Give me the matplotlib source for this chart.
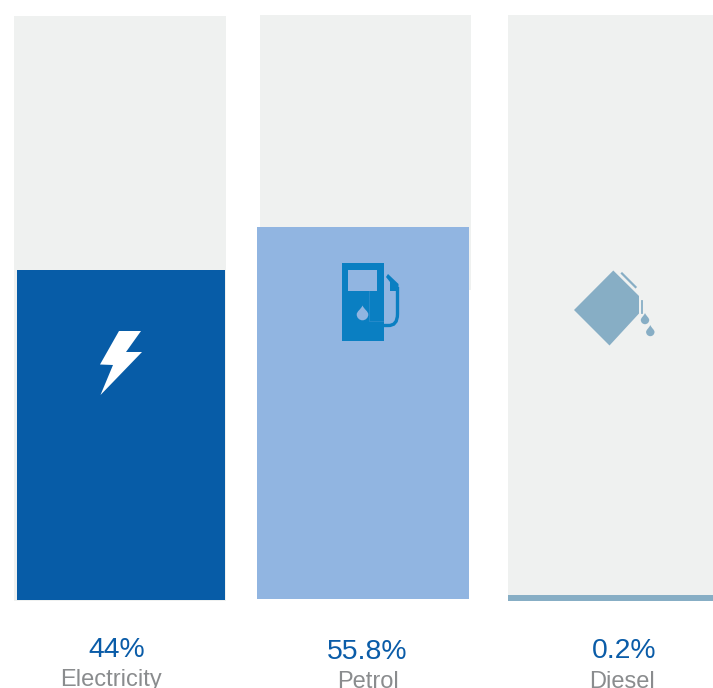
import matplotlib
matplotlib.use('Agg')
import matplotlib.pyplot as plt
from matplotlib.patches import Polygon, PathPatch, Rectangle
from matplotlib.path import Path

plt.rcParams['font.family'] = ['Liberation Sans', 'DejaVu Sans']

# Data
categories = ['Electricity', 'Petrol', 'Diesel']
share_labels = ['44%', '55.8%', '0.2%']
fill_heights = [330, 372, 6]  # drawn height of each bar [px]
track_heights = [585, 275, 580]  # drawn height of the grey tracks [px]

# Layout, all in pixels of the 713x688 picture
fill_left = [17, 257, 508]
fill_width = [208, 212, 205]
fill_base = [600, 599, 601]
track_left = [14, 260, 508]
track_width = [212, 211, 205]
track_base = [601, 290, 595]
share_pos = [(116.5, 657), (367.5, 659), (624, 658)]
name_pos = [(110.5, 686), (368, 687.5), (622, 688.5)]

colors = ['#075ca7', '#91b5e1', '#87aec5']
track_color = '#eff1f0'
pump_color = '#0a7fc2'
blue_text = '#0a5ca8'
grey_text = '#8a8c8e'


def drop(ax, cx, cy, r, top, color):
    # Water drop: round bottom centred on cx, cy with a point at top
    k = 0.55 * r
    mid = top + 0.45 * (cy - top)
    verts = [(cx, top),
             (cx + 0.3 * r, mid), (cx + r, cy - k), (cx + r, cy),
             (cx + r, cy + k), (cx + k, cy + r), (cx, cy + r),
             (cx - k, cy + r), (cx - r, cy + k), (cx - r, cy),
             (cx - r, cy - k), (cx - 0.3 * r, mid), (cx, top)]
    codes = [Path.MOVETO] + [Path.CURVE4] * 12
    ax.add_patch(PathPatch(Path(verts, codes), fc=color, ec='none', zorder=4))


fig = plt.figure(figsize=(7.13, 6.88), dpi=100)
ax = fig.add_axes([0, 0, 1, 1])
ax.set_xlim(0, 713)
ax.set_ylim(688, 0)
ax.axis('off')

# Tracks then fills (pixel y runs downward, so heights are negative)
for i in range(len(categories)):
    ax.bar(track_left[i], -track_heights[i], width=track_width[i], bottom=track_base[i],
           align='edge', color=track_color, linewidth=0, zorder=1)
for i in range(len(categories)):
    ax.bar(fill_left[i], -fill_heights[i], width=fill_width[i], bottom=fill_base[i],
           align='edge', color=colors[i], linewidth=0, zorder=2)

# Bolt icon
ax.add_patch(Polygon([(119, 331), (141, 331), (126, 352), (142, 352), (100.5, 395),
                      (113, 365), (100, 364.5)], fc='white', ec='none', zorder=3))

# Pump icon
ax.add_patch(Rectangle((341.5, 262.5), 42, 78, fc=pump_color, ec='none', zorder=3))
ax.add_patch(Rectangle((348.3, 270), 28.4, 20.7, fc=colors[1], ec='none', zorder=4))
ax.plot([369, 369, 383], [291, 320.5, 320.5], color='#2a8bcb', lw=0.6, zorder=4)
drop(ax, 362.5, 314.5, 5.8, 305.5, colors[1])
hose = Path([(383, 325.5), (388, 325.5), (397.5, 326), (397.5, 314), (397.5, 287)],
            [Path.MOVETO, Path.LINETO, Path.CURVE3, Path.CURVE3, Path.LINETO])
ax.add_patch(PathPatch(hose, fc='none', ec=pump_color, lw=2.4, zorder=3))
ax.add_patch(Polygon([(388, 274), (398.5, 284), (398.5, 291), (390, 291), (390, 282), (386, 277)],
                     fc=pump_color, ec='none', zorder=3))

# Oil can icon
ax.add_patch(Polygon([(613.3, 270.5), (639, 296), (639, 313.5), (609.5, 345.5), (574, 310)],
                     fc=colors[2], ec='none', zorder=3))
ax.plot([622, 635.5], [273.5, 287], color=colors[2], lw=1.6, zorder=3)
ax.plot([642.3, 642.3], [300.5, 312.5], color=colors[2], lw=1.3, zorder=3)
drop(ax, 645, 320, 4.2, 313, colors[2])
drop(ax, 650.3, 332, 4.2, 325, colors[2])

# Labels under the bars
for i in range(len(categories)):
    ax.text(share_pos[i][0], share_pos[i][1], share_labels[i], color=blue_text, fontsize=20.4,
            ha='center', va='baseline')
    ax.text(name_pos[i][0], name_pos[i][1], categories[i], color=grey_text, fontsize=17,
            ha='center', va='baseline')

fig.savefig('out.png', dpi=100)
